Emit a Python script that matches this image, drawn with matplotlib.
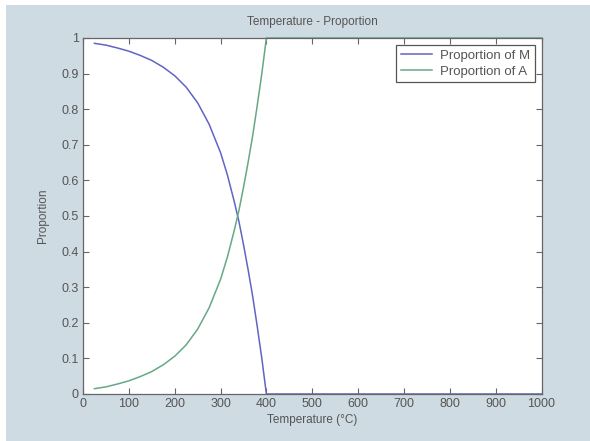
import numpy as np
import matplotlib
matplotlib.use("Agg")
import matplotlib.pyplot as plt
from matplotlib.patches import Rectangle

# values
temperature = [25, 50, 75, 100, 125, 150, 175, 200, 225, 250, 275, 300,
               315, 330, 340, 350, 360, 370, 380, 390, 400, 1000]
prop_m = [0.985, 0.980, 0.972, 0.963, 0.951, 0.937, 0.918, 0.894, 0.862,
          0.818, 0.758, 0.678, 0.615, 0.540, 0.485, 0.420, 0.350, 0.275,
          0.190, 0.100, 0.0, 0.0]
prop_a = [0.015, 0.020, 0.028, 0.037, 0.049, 0.063, 0.082, 0.106, 0.138,
          0.182, 0.242, 0.322, 0.385, 0.460, 0.515, 0.580, 0.650, 0.725,
          0.810, 0.900, 1.0, 1.0]

xticks = np.arange(0, 1001, 100)
yticks = np.arange(0, 1.01, 0.1)
yticklabels = ["0", "0.1", "0.2", "0.3", "0.4", "0.5", "0.6", "0.7", "0.8", "0.9", "1"]

plt.rcParams['font.family'] = ['Liberation Sans', 'DejaVu Sans']

bg = '#cfdbe2'
txt = '#555555'

fig = plt.figure(figsize=(5.9, 4.41), dpi=100, facecolor='white')
fig.patches.append(Rectangle((6/590, 0), 1, 436/441, transform=fig.transFigure,
                             facecolor=bg, edgecolor='none', zorder=-1))

ax = fig.add_axes([83/590, 1-394/441, 458.5/590, 356/441])
ax.set_facecolor('white')

ax.plot(temperature, prop_m, color='#6064c2', lw=1.1, label='Proportion of M', clip_on=False)
ax.plot(temperature, prop_a, color='#66a886', lw=1.1, label='Proportion of A', clip_on=False)

ax.set_xlim(0, 1000)
ax.set_ylim(0, 1)
ax.set_xticks(xticks)
ax.set_yticks(yticks)
ax.set_yticklabels(yticklabels)
ax.tick_params(direction='in', length=4, width=0.8, colors='#666666',
               labelcolor=txt, labelsize=9, top=True, right=True, pad=3)
for s in ax.spines.values():
    s.set_color('#666666')
    s.set_linewidth(0.9)

ax.set_title('Temperature - Proportion', fontsize=8.5, color=txt, pad=9)
ax.set_xlabel('Temperature (\u00b0C)', fontsize=8.5, color=txt, labelpad=3)
ax.set_ylabel('Proportion', fontsize=8.5, color=txt, labelpad=9)

leg = ax.legend(loc='upper right', bbox_to_anchor=(0.986, 0.98), borderaxespad=0,
                fontsize=9.5, fancybox=False, framealpha=1, handlelength=2.4,
                borderpad=0.35, labelspacing=0.27, handletextpad=0.6)
leg.get_frame().set_edgecolor('#555555')
leg.get_frame().set_linewidth(0.9)
for t in leg.get_texts():
    t.set_color(txt)

fig.savefig('out.png', dpi=100, facecolor=fig.get_facecolor())
